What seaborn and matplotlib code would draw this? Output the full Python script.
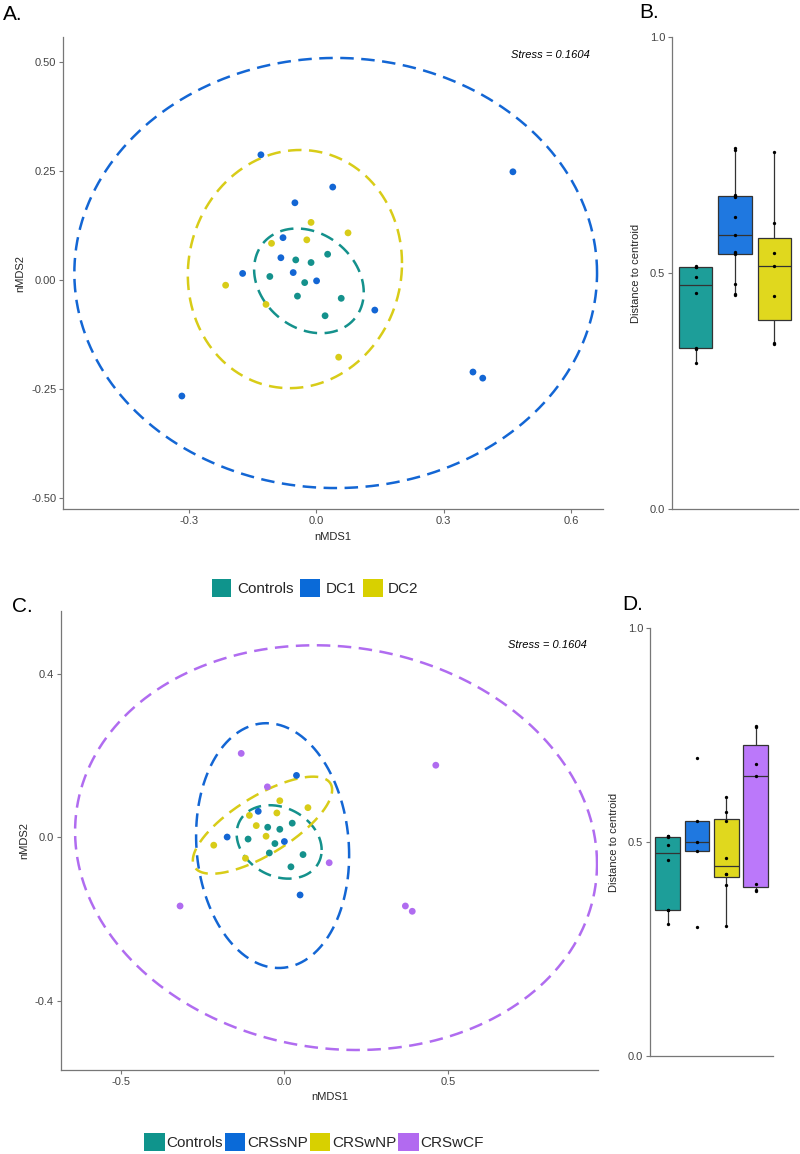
import numpy as np
import pandas as pd
import matplotlib
matplotlib.use('Agg')
import matplotlib.pyplot as plt
import seaborn as sns
from matplotlib.patches import Patch

# ---------------- Panel A: nMDS (Controls / DC1 / DC2) ----------------
a_groups = ['Controls', 'DC1', 'DC2']
a_ctrl_x = [-0.048, -0.012, 0.027, -0.109, -0.027, -0.044, 0.059, 0.021]
a_ctrl_y = [0.046, 0.040, 0.059, 0.008, -0.006, -0.037, -0.042, -0.082]
a_dc1_x = [-0.130, 0.039, -0.050, -0.078, -0.083, -0.173, -0.054, 0.001, 0.138, 0.463, 0.369, 0.392, -0.316]
a_dc1_y = [0.287, 0.213, 0.177, 0.097, 0.051, 0.015, 0.017, -0.002, -0.069, 0.248, -0.211, -0.225, -0.266]
a_dc2_x = [-0.012, 0.075, -0.105, -0.022, -0.213, -0.118, 0.053]
a_dc2_y = [0.132, 0.108, 0.084, 0.092, -0.012, -0.056, -0.177]
# ellipses: centre, half-extent x/y, correlation
a_ell_cx = [-0.017, 0.046, -0.050]
a_ell_cy = [-0.002, 0.016, 0.025]
a_ell_rx = [0.129, 0.615, 0.252]
a_ell_ry = [0.120, 0.493, 0.273]
a_ell_r = [-0.22, 0.0, 0.05]

# ---------------- Panel B: distance to centroid ----------------
b_ctrl = [0.309, 0.340, 0.341, 0.458, 0.492, 0.512, 0.513, 0.514]
b_dc1 = [0.453, 0.455, 0.477, 0.541, 0.543, 0.545, 0.580, 0.619, 0.662, 0.664, 0.666, 0.760, 0.764]
b_dc2 = [0.350, 0.351, 0.451, 0.515, 0.542, 0.606, 0.757]

# ---------------- Panel C: nMDS (4 groups) ----------------
c_groups = ['Controls', 'CRSsNP', 'CRSwNP', 'CRSwCF']
c_ctrl_x = [-0.051, -0.014, 0.024, -0.111, -0.029, -0.046, 0.057, 0.020]
c_ctrl_y = [0.025, 0.020, 0.035, -0.004, -0.015, -0.038, -0.042, -0.072]
c_snp_x = [0.037, -0.080, -0.175, 0.000, 0.048]
c_snp_y = [0.152, 0.064, 0.001, -0.010, -0.141]
c_wnp_x = [-0.014, -0.023, -0.107, 0.072, -0.086, -0.056, -0.216, -0.119]
c_wnp_y = [0.090, 0.060, 0.054, 0.073, 0.029, 0.003, -0.019, -0.051]
c_wcf_x = [-0.132, -0.052, 0.137, 0.463, 0.370, 0.391, -0.319]
c_wcf_y = [0.206, 0.124, -0.062, 0.177, -0.168, -0.181, -0.168]
c_ell_cx = [-0.016, -0.036, -0.067, 0.158]
c_ell_cy = [-0.011, -0.020, 0.030, -0.025]
c_ell_rx = [0.130, 0.234, 0.213, 0.798]
c_ell_ry = [0.090, 0.300, 0.119, 0.496]
c_ell_r = [-0.22, -0.08, 0.727, -0.08]

# ---------------- Panel D: distance to centroid ----------------
d_ctrl = [0.309, 0.340, 0.341, 0.458, 0.492, 0.512, 0.513, 0.514]
d_snp = [0.302, 0.479, 0.501, 0.549, 0.697]
d_wnp = [0.303, 0.399, 0.425, 0.426, 0.463, 0.548, 0.570, 0.6045]
d_wcf = [0.385, 0.387, 0.403, 0.655, 0.683, 0.768, 0.770]

stress_label = 'Stress = 0.1604'

pt_colors = ['#14918c', '#1366d4', '#d8cc18', '#b06cf0']
box_colors = ['#1d9e99', '#1f78e0', '#e0d81e', '#bb78fa']
leg_colors = ['#0f948c', '#0a6ad8', '#d8d000', '#b26af0']

sns.set_theme(style='ticks')
plt.rcParams['font.family'] = ['Liberation Sans', 'DejaVu Sans']
plt.rcParams['axes.edgecolor'] = '#777777'
plt.rcParams['xtick.color'] = '#777777'
plt.rcParams['ytick.color'] = '#777777'
plt.rcParams['xtick.labelcolor'] = '#444444'
plt.rcParams['ytick.labelcolor'] = '#444444'

fig = plt.figure(figsize=(8, 11.54), dpi=100)
W, H = 800.0, 1154.0


def axes_px(l, t, r, b):
    return fig.add_axes([l / W, 1 - b / H, (r - l) / W, (b - t) / H])


def style(ax):
    sns.despine(ax=ax)
    ax.tick_params(labelsize=8, length=3, width=0.8, pad=2)
    for s in ['left', 'bottom']:
        ax.spines[s].set_linewidth(0.9)


def draw_nmds(ax, groups, xs, ys, ecx, ecy, erx, ery, er):
    df = pd.DataFrame({
        'x': np.concatenate([np.asarray(v) for v in xs]),
        'y': np.concatenate([np.asarray(v) for v in ys]),
        'g': np.concatenate([[g] * len(v) for g, v in zip(groups, xs)]),
    })
    pal = dict(zip(groups, pt_colors[:len(groups)]))
    sns.scatterplot(data=df, x='x', y='y', hue='g', palette=pal, s=24,
                    edgecolor='none', legend=False, ax=ax, zorder=3)
    t = np.linspace(0, 2 * np.pi, 400)
    for i, g in enumerate(groups):
        d = np.arccos(er[i])
        ex = ecx[i] + erx[i] * np.cos(t)
        ey = ecy[i] + ery[i] * np.cos(t - d)
        ax.plot(ex, ey, color=pt_colors[i], lw=1.8, dashes=(5.4, 3.0), zorder=2)
    ax.set_xlabel('nMDS1', fontsize=8, labelpad=4)
    ax.set_ylabel('nMDS2', fontsize=8, labelpad=4)
    style(ax)


def draw_box(ax, groups, vals):
    df = pd.DataFrame({
        'g': np.concatenate([[g] * len(v) for g, v in zip(groups, vals)]),
        'v': np.concatenate([np.asarray(v) for v in vals]),
    })
    pal = dict(zip(groups, box_colors[:len(groups)]))
    sns.boxplot(data=df, x='g', y='v', hue='g', palette=pal, width=0.84,
                showfliers=False, showcaps=False, linecolor='#333333', linewidth=0.9,
                saturation=1, legend=False, ax=ax, order=groups)
    sns.stripplot(data=df, x='g', y='v', color='black', size=2.4, jitter=False,
                  ax=ax, order=groups, zorder=4)
    ax.set_ylim(0, 1)
    ax.set_xlim(-0.6, len(groups) - 0.4)
    ax.set_yticks([0.0, 0.5, 1.0])
    ax.set_yticklabels(['0.0', '0.5', '1.0'])
    ax.set_xticks([])
    ax.set_xlabel('')
    ax.set_ylabel('Distance to centroid', fontsize=8, labelpad=6)
    style(ax)


# Panel A
axA = axes_px(63.3, 37, 603, 509)
draw_nmds(axA, a_groups, [a_ctrl_x, a_dc1_x, a_dc2_x], [a_ctrl_y, a_dc1_y, a_dc2_y],
          a_ell_cx, a_ell_cy, a_ell_rx, a_ell_ry, a_ell_r)
axA.set_xlim(-0.595, 0.675)
axA.set_ylim(-0.525, 0.557)
axA.set_xticks([-0.3, 0.0, 0.3, 0.6])
axA.set_xticklabels(['-0.3', '0.0', '0.3', '0.6'])
axA.set_yticks([-0.5, -0.25, 0.0, 0.25, 0.5])
axA.set_yticklabels(['-0.50', '-0.25', '0.00', '0.25', '0.50'])
axA.text(0.975, 0.962, stress_label, transform=axA.transAxes, ha='right', va='center',
         fontsize=8, style='italic', color='black')

# Panel B
axB = axes_px(672, 37, 798, 509)
draw_box(axB, a_groups, [b_ctrl, b_dc1, b_dc2])

# Panel C
axC = axes_px(60.7, 611, 598, 1070)
draw_nmds(axC, c_groups, [c_ctrl_x, c_snp_x, c_wnp_x, c_wcf_x],
          [c_ctrl_y, c_snp_y, c_wnp_y, c_wcf_y],
          c_ell_cx, c_ell_cy, c_ell_rx, c_ell_ry, c_ell_r)
axC.set_xlim(-0.684, 0.959)
axC.set_ylim(-0.570, 0.555)
axC.set_xticks([-0.5, 0.0, 0.5])
axC.set_xticklabels(['-0.5', '0.0', '0.5'])
axC.set_yticks([-0.4, 0.0, 0.4])
axC.set_yticklabels(['-0.4', '0.0', '0.4'])
axC.text(0.98, 0.925, stress_label, transform=axC.transAxes, ha='right', va='center',
         fontsize=8, style='italic', color='black')

# Panel D
axD = axes_px(650, 628, 773.3, 1056)
draw_box(axD, c_groups, [d_ctrl, d_snp, d_wnp, d_wcf])

# Legends
hA = [Patch(facecolor=c, edgecolor='none') for c in leg_colors[:3]]
fig.legend(hA, a_groups, loc='center', bbox_to_anchor=(315 / W, 1 - 588 / H), ncol=3,
           frameon=False, fontsize=11, handlelength=1.3, handleheight=1.45,
           handletextpad=0.35, columnspacing=0.45)
hC = [Patch(facecolor=c, edgecolor='none') for c in leg_colors]
fig.legend(hC, c_groups, loc='center', bbox_to_anchor=(314 / W, 1 - 1142 / H), ncol=4,
           frameon=False, fontsize=11, handlelength=1.35, handleheight=1.45,
           handletextpad=0.12, columnspacing=0.12)

# Panel letters
for lab, x, y in [('A.', 3, 14), ('B.', 639, 13), ('C.', 12, 607), ('D.', 622, 604)]:
    fig.text(x / W, 1 - y / H, lab, fontsize=15, ha='left', va='center', color='black')

fig.savefig('out.png', dpi=100)
